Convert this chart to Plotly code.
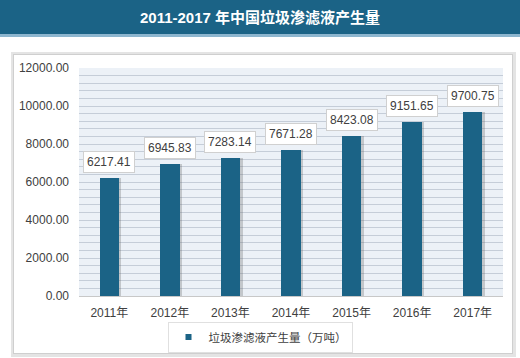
import plotly.graph_objects as go

years = ["2011年", "2012年", "2013年", "2014年", "2015年", "2016年", "2017年"]
values = [6217.41, 6945.83, 7283.14, 7671.28, 8423.08, 9151.65, 9700.75]
series_name = "垃圾渗滤液产生量（万吨）"
title_text = "2011-2017 年中国垃圾渗滤液产生量"

W, H = 520, 358
L, R, T, B = 79, 503, 68, 296

def px(x):
    return (x - L) / (R - L)

def py(y):
    return (B - y) / (B - T)

FONT = "Liberation Sans, Arial, Noto Sans CJK SC, sans-serif"
BAR = "#1b6386"

fig = go.Figure()
# bar shadow
fig.add_trace(go.Bar(x=years, y=values, width=0.32, offset=-0.12,
                     marker=dict(color="rgba(90,90,90,0.28)", line=dict(width=0)),
                     showlegend=False, hoverinfo="skip"))
fig.add_trace(go.Bar(x=years, y=values, width=0.32, offset=-0.16,
                     marker=dict(color=BAR, line=dict(width=0)),
                     showlegend=False, name=series_name))
# legend entry
fig.add_trace(go.Scatter(x=[None], y=[None], mode="markers", name=series_name,
                         marker=dict(symbol="square", size=6, color=BAR)))

for yr, v in zip(years, values):
    fig.add_annotation(x=yr, y=v, text=f"{v:.2f}", showarrow=False,
                       yanchor="bottom", yshift=5, bgcolor="white",
                       bordercolor="#d0d0d0", borderwidth=1, borderpad=3,
                       font=dict(family=FONT, size=12, color="#404040"))

shapes = [
    # title bar
    dict(type="rect", xref="paper", yref="paper", x0=px(0), x1=px(W), y0=py(0), y1=py(34),
         fillcolor="#1b6386", line=dict(width=0), layer="below"),
    dict(type="rect", xref="paper", yref="paper", x0=px(0), x1=px(W), y0=py(34), y1=py(37),
         fillcolor="#8db6cf", line=dict(width=0), layer="below"),
    # panel shadow
    dict(type="rect", xref="paper", yref="paper", x0=px(11), x1=px(516), y0=py(52), y1=py(357),
         fillcolor="#e4e4e4", line=dict(width=0), layer="below"),
    dict(type="rect", xref="paper", yref="paper", x0=px(13), x1=px(513), y0=py(54), y1=py(354),
         fillcolor="#cfcfcf", line=dict(width=0), layer="below"),
    dict(type="rect", xref="paper", yref="paper", x0=px(14), x1=px(512), y0=py(55), y1=py(353),
         fillcolor="white", line=dict(width=0), layer="below"),
    # plot background
    dict(type="rect", xref="paper", yref="paper", x0=0, x1=1, y0=0, y1=1,
         fillcolor="#ecf1f7", line=dict(width=0), layer="below"),
]

fig.update_layout(
    width=W, height=H,
    margin=dict(l=L, r=W - R, t=T, b=H - B, pad=0, autoexpand=False),
    paper_bgcolor="white", plot_bgcolor="rgba(0,0,0,0)",
    barmode="overlay", bargap=0,
    shapes=shapes,
    font=dict(family=FONT, size=12, color="#404040"),
    title=dict(text=f"<b>{title_text}</b>", x=0.5, xref="container", xanchor="center",
               y=1 - 18 / H, yref="container", yanchor="middle",
               font=dict(family="Liberation Sans, Arial, Noto Sans CJK SC", size=15, color="white")),
    legend=dict(orientation="h", xref="container", yref="container",
                x=0.5, xanchor="center", y=1 - 337 / H, yanchor="middle",
                bgcolor="white", bordercolor="#e0e0e0", borderwidth=1,
                font=dict(family=FONT, size=11.5, color="#404040")),
    showlegend=True,
)
fig.update_xaxes(showgrid=False, showline=True, linecolor="#c8c8c8", linewidth=1,
                 ticks="", ticklabelstandoff=6,
                 tickfont=dict(family=FONT, size=12, color="#404040"))
fig.update_yaxes(range=[0, 12000], dtick=2000, tickformat=".2f",
                 showgrid=True, gridcolor="#c5cdd8", gridwidth=1,
                 minor=dict(dtick=400, showgrid=True, gridcolor="#c5cdd8", gridwidth=1),
                 zeroline=False, ticks="", ticklabelstandoff=9,
                 tickfont=dict(family=FONT, size=12, color="#404040"))

fig.write_html("out.html", config={"displayModeBar": False},
               post_script="document.body.style.margin='0';document.body.style.overflow='hidden';")
